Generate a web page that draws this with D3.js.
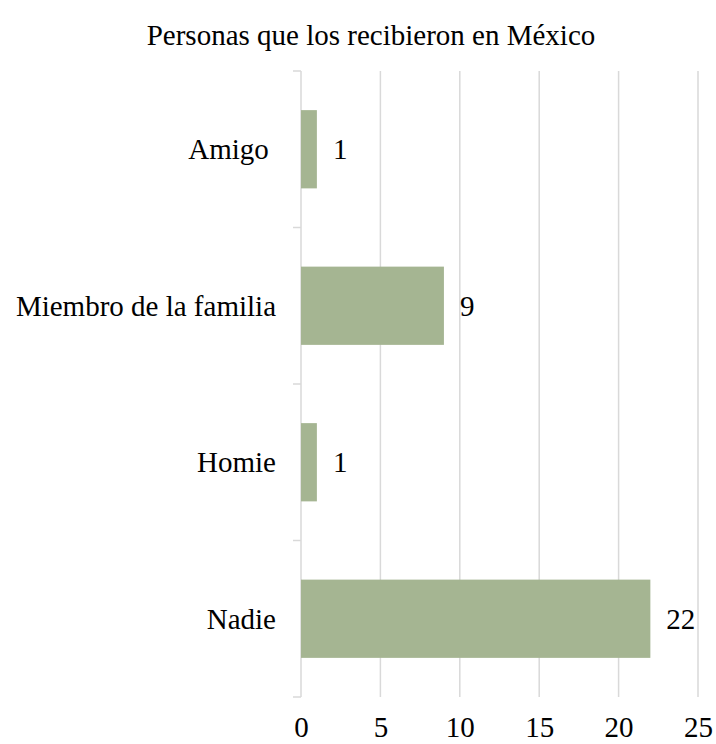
<!DOCTYPE html>
<html>
<head>
<meta charset="utf-8">
<script src="https://cdn.jsdelivr.net/npm/d3@7"></script>
<style>
  body { margin: 0; background: #fff; }
  text { font-family: "Liberation Serif", "Times New Roman", serif; fill: #000; white-space: pre; }
</style>
</head>
<body>
<div id="chart"></div>
<script>
// chart data (the source label "Amigo " carries a trailing space)
var categories = ["Amigo ", "Miembro de la familia", "Homie", "Nadie"];
var values = [1, 9, 1, 22];
var xTicks = [0, 5, 10, 15, 20, 25];
var title = "Personas que los recibieron en México";

var svgWidth = 716;
var svgHeight = 744;
var fontSize = 29;

var margin = { top: 71, right: 18, bottom: 47, left: 301 };
var width = svgWidth - margin.left - margin.right;
var height = svgHeight - margin.top - margin.bottom;

var svg = d3.select("#chart")
	.append("svg")
	.attr("width", svgWidth)
	.attr("height", svgHeight);

svg.append("text")
	.attr("x", 371)
	.attr("y", 45)
	.attr("text-anchor", "middle")
	.attr("font-size", fontSize)
	.text(title);

var chartGroup = svg.append("g")
	.attr("transform", `translate(${margin.left}, ${margin.top})`);

var xScale = d3.scaleLinear()
	.domain([0, 25])
	.range([0, width]);

var yScale = d3.scaleBand()
	.domain(categories)
	.range([0, height])
	.paddingInner(0.5)
	.paddingOuter(0.25);

// vertical gridlines
chartGroup.selectAll(".grid")
	.data(xTicks.slice(1))
	.enter()
	.append("line")
	.attr("x1", d => xScale(d))
	.attr("x2", d => xScale(d))
	.attr("y1", 0)
	.attr("y2", height)
	.attr("stroke", "#d9d9d9")
	.attr("stroke-width", 1.5);

// x axis labels only
var bottomAxis = d3.axisBottom(xScale)
	.tickValues(xTicks)
	.tickSize(0)
	.tickPadding(0);

var xAxis = chartGroup.append("g")
	.attr("transform", `translate(0, ${height})`)
	.call(bottomAxis);
xAxis.select(".domain").remove();
xAxis.selectAll("text")
	.attr("y", 40)
	.attr("dy", null)
	.attr("font-size", fontSize)
	.style("font-family", "Liberation Serif, serif")
	.attr("fill", "#000");

// left axis line and category boundary ticks
chartGroup.append("line")
	.attr("x1", 0).attr("x2", 0)
	.attr("y1", 0).attr("y2", height)
	.attr("stroke", "#d9d9d9")
	.attr("stroke-width", 1.5);

var step = yScale.step();
var boundaries = d3.range(categories.length + 1).map(i => i * step);
chartGroup.selectAll(".ytick")
	.data(boundaries)
	.enter()
	.append("line")
	.attr("x1", -8).attr("x2", 0)
	.attr("y1", d => d).attr("y2", d => d)
	.attr("stroke", "#d9d9d9")
	.attr("stroke-width", 1.5);

// bars
chartGroup.selectAll("rect")
	.data(values)
	.enter()
	.append("rect")
	.attr("x", 0)
	.attr("y", (d, i) => yScale(categories[i]))
	.attr("width", d => xScale(d))
	.attr("height", yScale.bandwidth())
	.attr("fill", "#a5b592");

// value labels
chartGroup.selectAll(".val")
	.data(values)
	.enter()
	.append("text")
	.attr("x", d => xScale(d) + 16)
	.attr("y", (d, i) => yScale(categories[i]) + yScale.bandwidth() / 2)
	.attr("dy", "0.35em")
	.attr("font-size", fontSize)
	.text(d => d);

// category labels
chartGroup.selectAll(".cat")
	.data(categories)
	.enter()
	.append("text")
	.attr("x", -25)
	.attr("y", d => yScale(d) + yScale.bandwidth() / 2)
	.attr("dy", "0.35em")
	.attr("text-anchor", "end")
	.attr("font-size", fontSize)
	.text(d => d);
</script>
</body>
</html>
